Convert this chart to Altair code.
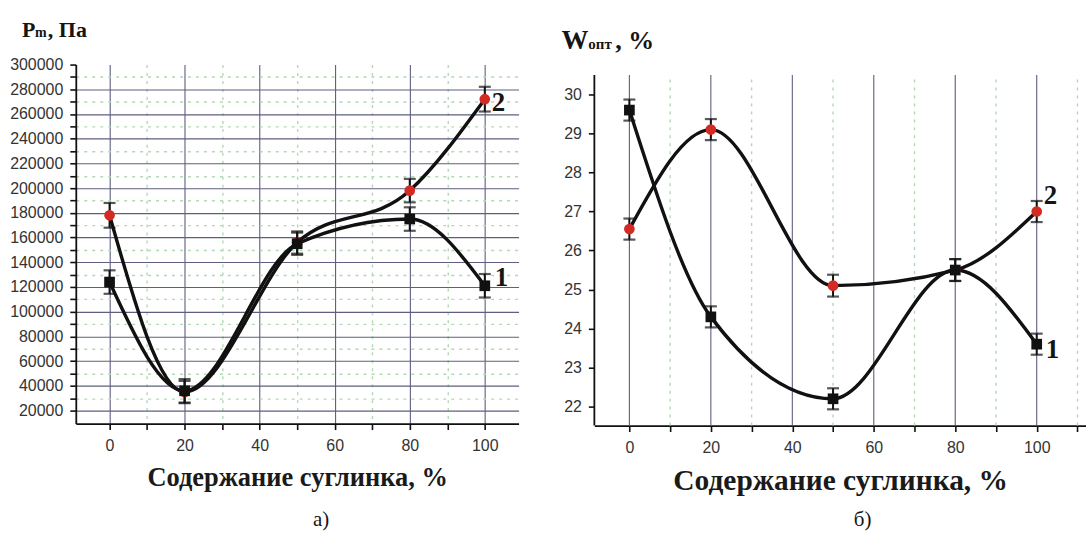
import altair as alt
import pandas as pd

# ---------------- data ----------------
content = [0, 20, 50, 80, 100]            # Содержание суглинка, %
p_curve1 = [124000, 36000, 155000, 175000, 121000]
p_curve2 = [178000, 35000, 156000, 198000, 272000]
p_err1 = [9500, 9500, 9000, 9500, 9500]
p_err2 = [10000, 9000, 9000, 9500, 10000]
w_curve1 = [29.6, 24.3, 22.2, 25.5, 23.6]
w_curve2 = [26.55, 29.1, 25.1, 25.5, 27.0]
w_err1 = [0.27, 0.27, 0.27, 0.28, 0.27]
w_err2 = [0.27, 0.27, 0.28, 0.28, 0.27]

x_major = [0, 20, 40, 60, 80, 100]
x_minor = [10, 30, 50, 70, 90, 110]

LINE = "#111111"
RED = "#d42a24"
GRID_MAJOR = "#5e5e80"
GRID_MINOR = "#b3d9b3"
SERIF = "Liberation Serif"
SANS = "Liberation Sans"

WL, WR, H = 444, 493, 360


def frame(vals, errs):
    return pd.DataFrame({
        "x": content,
        "y": vals,
        "lo": [v - e for v, e in zip(vals, errs)],
        "hi": [v + e for v, e in zip(vals, errs)],
    })


one = pd.DataFrame({"a": [0]})


def txt(text, x, y, size, weight="bold", align="left", baseline="alphabetic"):
    return alt.Chart(one).mark_text(
        text=text, font=SERIF, fontSize=size, fontWeight=weight,
        align=align, baseline=baseline, color="#151515"
    ).encode(x=alt.value(x), y=alt.value(y))


def x_axis(grid, title_size):
    return alt.Axis(
        values=list(range(0, 111, 10)),
        tickCount=500,
        format="d",
        labelOverlap=False,
        labelExpr="datum.value % 20 === 0 ? datum.label : ''",
        grid=grid,
        gridColor={"condition": {"test": "datum.value % 20 === 0", "value": GRID_MAJOR}, "value": GRID_MINOR},
        gridDash={"condition": {"test": "datum.value % 20 === 0", "value": []}, "value": [3, 5]},
        gridWidth={"condition": {"test": "datum.value % 20 === 0", "value": 1.1}, "value": 1.4},
        title="Содержание суглинка, %",
        titleFont=SERIF, titleFontWeight="bold", titleFontSize=title_size, titleColor="#1a1a1a",
        titlePadding=11,
        labelFont=SANS, labelFontSize=16, labelColor="#333333", labelPadding=8,
        tickSize=6, tickWidth=1.6, tickColor="#111111",
        domainColor="#111111", domainWidth=1.8,
    )


def series_layers(x, y, df, marker, color, size, xe, ye):
    base = alt.Chart(df)
    line = base.mark_line(interpolate="monotone", color=LINE, strokeWidth=3.4).encode(x=x, y=y)
    bar = base.mark_rule(color=LINE, strokeWidth=2).encode(x=xe, y=alt.Y("lo:Q"), y2="hi:Q")
    cap_hi = base.mark_tick(orient="horizontal", color=LINE, size=12, thickness=2.2).encode(x=xe, y=alt.Y("hi:Q"))
    cap_lo = base.mark_tick(orient="horizontal", color=LINE, size=12, thickness=2.2).encode(x=xe, y=alt.Y("lo:Q"))
    pts = base.mark_point(shape=marker, filled=True, fill=color, color=color, opacity=1, size=size).encode(x=xe, y=ye)
    return line, [bar, cap_hi, cap_lo, pts]


# ---------------- panel a) ----------------
xL = alt.X("x:Q", scale=alt.Scale(domain=[-9, 109], nice=False, zero=False), axis=x_axis(True, 26.5))
yL = alt.Y("y:Q", scale=alt.Scale(domain=[9500, 300000], nice=False, zero=False), axis=alt.Axis(
    values=list(range(20000, 300001, 10000)),
    tickCount=500,
    labelOverlap=False,
    labelExpr="datum.value % 20000 === 0 ? datum.label : ''",
    format="d",
    gridColor={"condition": {"test": "datum.value % 20000 === 0", "value": GRID_MAJOR}, "value": GRID_MINOR},
    gridDash={"condition": {"test": "datum.value % 20000 === 0", "value": []}, "value": [3, 5]},
    gridWidth={"condition": {"test": "datum.value % 20000 === 0", "value": 1.1}, "value": 1.4},
    gridOpacity={"condition": {"test": "datum.value >= 300000", "value": 0}, "value": 1},
    title=None,
    labelFont=SANS, labelFontSize=16, labelColor="#333333", labelPadding=7,
    tickSize=6, tickWidth=1.6, tickColor="#111111",
    domainColor="#111111", domainWidth=1.8,
))
xLe = alt.X("x:Q")
yLe = alt.Y("y:Q")

dL1 = frame(p_curve1, p_err1)
dL2 = frame(p_curve2, p_err2)
l2, m2 = series_layers(xL, yL, dL2, "circle", RED, 115, xLe, yLe)
l1, m1 = series_layers(xL, yL, dL1, "square", "#111111", 115, xLe, yLe)

lab_L2 = alt.Chart(dL2.tail(1)).mark_text(text="2", font=SERIF, fontSize=27, fontWeight="bold",
                                          align="left", baseline="middle", dx=7, dy=4,
                                          color="#151515").encode(x=xLe, y=yLe)
lab_L1 = alt.Chart(dL1.tail(1)).mark_text(text="1", font=SERIF, fontSize=27, fontWeight="bold",
                                          align="left", baseline="middle", dx=10, dy=-8,
                                          color="#151515").encode(x=xLe, y=yLe)

left = alt.layer(
    l2, l1, *m2, *m1, lab_L2, lab_L1,
    txt("P", -54, -28, 22),
    txt("m", -41, -28, 14),
    txt(", Па", -28, -28, 22),
    txt("а)", 246, 457, 21, weight="normal", align="center", baseline="middle"),
).properties(width=WL, height=H)

# ---------------- panel б) ----------------
w_lo, w_hi = 21.514, 30.767
xR = alt.X("x:Q", scale=alt.Scale(domain=[-8.6, 112.1], nice=False, zero=False), axis=x_axis(False, 29.5))
yR = alt.Y("y:Q", scale=alt.Scale(domain=[w_lo, w_hi], nice=False, zero=False), axis=alt.Axis(
    values=[v / 2 for v in range(44, 62)],
    tickCount=500,
    format="d",
    labelOverlap=False,
    labelExpr="datum.value % 1 === 0 ? datum.label : ''",
    gridColor={"condition": {"test": "datum.value % 1 === 0", "value": GRID_MAJOR}, "value": GRID_MINOR},
    gridDash={"condition": {"test": "datum.value % 1 === 0", "value": []}, "value": [3, 5]},
    gridWidth={"condition": {"test": "datum.value % 1 === 0", "value": 1.1}, "value": 1.4},
    gridOpacity={"condition": {"test": "datum.value > 30.2", "value": 0}, "value": 1},
    domain=False,
    title=None,
    labelFont=SANS, labelFontSize=16, labelColor="#333333", labelPadding=7,
    tickSize=6, tickWidth=1.6, tickColor="#111111",
))
xRe = alt.X("x:Q")
yRe = alt.Y("y:Q")

vgrid_major = alt.Chart(pd.DataFrame({"x": x_major})).mark_rule(
    color=GRID_MAJOR, strokeWidth=1.1).encode(x=xR, y=alt.datum(w_lo), y2=alt.datum(30.5))
vgrid_minor = alt.Chart(pd.DataFrame({"x": x_minor})).mark_rule(
    color=GRID_MINOR, strokeWidth=1.4, strokeDash=[3, 5]).encode(x=xRe, y=alt.datum(w_lo), y2=alt.datum(30.5))
y_domain_line = alt.Chart(one).mark_rule(color="#111111", strokeWidth=1.8).encode(
    x=alt.value(0), y=alt.datum(w_lo), y2=alt.datum(30.5))

dR1 = frame(w_curve1, w_err1)
dR2 = frame(w_curve2, w_err2)
r2, n2 = series_layers(xRe, yR, dR2, "circle", RED, 115, xRe, yRe)
r1, n1 = series_layers(xRe, yRe, dR1, "square", "#111111", 115, xRe, yRe)

lab_R2 = alt.Chart(dR2.tail(1)).mark_text(text="2", font=SERIF, fontSize=27, fontWeight="bold",
                                          align="left", baseline="middle", dx=7, dy=-16,
                                          color="#151515").encode(x=xRe, y=yRe)
lab_R1 = alt.Chart(dR1.tail(1)).mark_text(text="1", font=SERIF, fontSize=27, fontWeight="bold",
                                          align="left", baseline="middle", dx=9, dy=6,
                                          color="#151515").encode(x=xRe, y=yRe)

right = alt.layer(
    vgrid_major, vgrid_minor, y_domain_line,
    r2, r1, *n2, *n1, lab_R2, lab_R1,
    txt("W", -33, -16, 27),
    txt("опт", -6, -16, 15),
    txt(", %", 21, -16, 26),
    txt("б)", 269, 457, 21, weight="normal", align="center", baseline="middle"),
).properties(width=WR, height=362)

chart = alt.hconcat(left, right, spacing=76, bounds="flush").properties(
    padding={"left": 9, "top": 18, "right": 0, "bottom": 0},
    background="white",
).configure_view(stroke=None)

chart.save("out.html", embed_options={"renderer": "svg", "actions": False})
